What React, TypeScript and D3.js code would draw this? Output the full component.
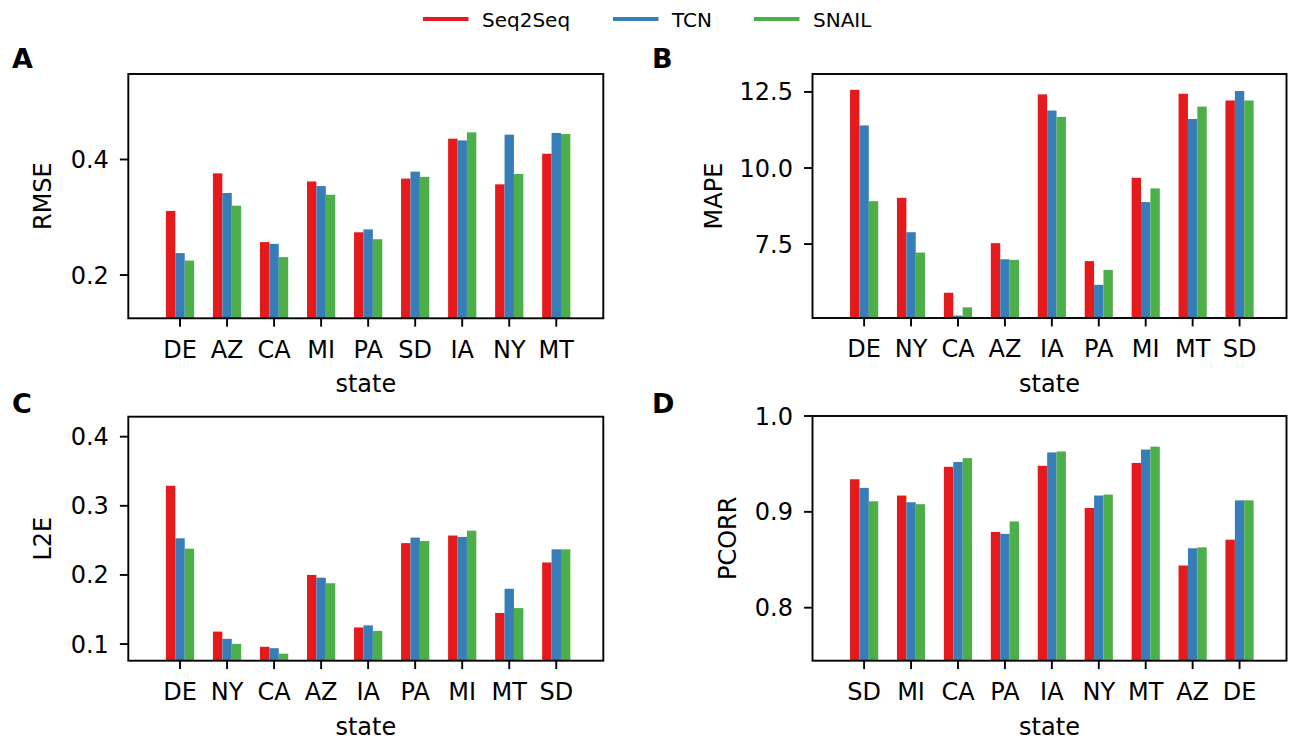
import React from "react";
import * as d3 from "d3";

const seriesNames = ["Seq2Seq", "TCN", "SNAIL"];
const seriesColors = ["#e41a1c", "#377eb8", "#4daf4a"];

// Panel A: RMSE
const rmseStates = ["DE", "AZ", "CA", "MI", "PA", "SD", "IA", "NY", "MT"];
const rmseSeq2Seq = [0.311, 0.376, 0.257, 0.362, 0.274, 0.367, 0.436, 0.357, 0.410];
const rmseTCN = [0.238, 0.342, 0.254, 0.354, 0.279, 0.379, 0.433, 0.443, 0.446];
const rmseSNAIL = [0.225, 0.320, 0.231, 0.339, 0.262, 0.370, 0.447, 0.375, 0.444];
const rmseTicks = [0.2, 0.4];

// Panel B: MAPE
const mapeStates = ["DE", "NY", "CA", "AZ", "IA", "PA", "MI", "MT", "SD"];
const mapeSeq2Seq = [12.57, 9.02, 5.90, 7.53, 12.42, 6.94, 9.68, 12.44, 12.22];
const mapeTCN = [11.40, 7.89, 5.15, 7.00, 11.89, 6.16, 8.88, 11.61, 12.53];
const mapeSNAIL = [8.91, 7.22, 5.42, 6.98, 11.68, 6.65, 9.33, 12.02, 12.22];
const mapeTicks = [7.5, 10.0, 12.5];

// Panel C: L2E
const l2eStates = ["DE", "NY", "CA", "AZ", "IA", "PA", "MI", "MT", "SD"];
const l2eSeq2Seq = [0.329, 0.118, 0.096, 0.200, 0.124, 0.246, 0.257, 0.145, 0.218];
const l2eTCN = [0.253, 0.1076, 0.094, 0.196, 0.127, 0.254, 0.255, 0.180, 0.237];
const l2eSNAIL = [0.238, 0.1003, 0.086, 0.188, 0.119, 0.249, 0.264, 0.152, 0.237];
const l2eTicks = [0.1, 0.2, 0.3, 0.4];

// Panel D: PCORR
const pcorrStates = ["SD", "MI", "CA", "PA", "IA", "NY", "MT", "AZ", "DE"];
const pcorrSeq2Seq = [0.934, 0.917, 0.947, 0.879, 0.948, 0.904, 0.951, 0.844, 0.871];
const pcorrTCN = [0.925, 0.910, 0.952, 0.877, 0.962, 0.917, 0.965, 0.862, 0.912];
const pcorrSNAIL = [0.911, 0.908, 0.956, 0.890, 0.963, 0.918, 0.968, 0.863, 0.912];
const pcorrTicks = [0.8, 0.9, 1.0];

const FONT = "DejaVu Sans";
const LW = 1.9;

type PanelProps = {
  letter: string;
  ylabel: string;
  states: string[];
  series: number[][];
  ticks: number[];
  tickFmt: (v: number) => string;
  yDomain: [number, number];
  left: number;
  right: number;
  top: number;
  bottom: number;
  ylabelX: number;
  letterX: number;
  letterY: number;
};

function Panel(p: PanelProps) {
  const x = d3.scaleLinear().domain([-1.1, 9.0]).range([p.left, p.right]);
  const y = d3.scaleLinear().domain(p.yDomain).range([p.bottom, p.top]);
  const offsets = [-0.2, 0, 0.2];
  const bw = 0.2;
  const cx = (p.left + p.right) / 2;
  const cy = (p.top + p.bottom) / 2;
  return (
    <g>
      <text x={p.letterX} y={p.letterY} fontFamily={FONT} fontWeight="bold" fontSize={27}>
        {p.letter}
      </text>
      <defs>
        <clipPath id={"clip" + p.letter}>
          <rect x={p.left} y={p.top} width={p.right - p.left} height={p.bottom - p.top} />
        </clipPath>
      </defs>
      <g clipPath={`url(#clip${p.letter})`}>
        {p.series.map((vals, s) =>
          vals.map((v, i) => {
            const x0 = x(i + offsets[s] - bw / 2);
            const x1 = x(i + offsets[s] + bw / 2);
            const yv = y(v);
            return (
              <rect
                key={s + "-" + i}
                x={x0}
                y={yv}
                width={x1 - x0}
                height={p.bottom - yv + 2}
                fill={seriesColors[s]}
              />
            );
          })
        )}
      </g>
      <rect
        x={p.left}
        y={p.top}
        width={p.right - p.left}
        height={p.bottom - p.top}
        fill="none"
        stroke="#000"
        strokeWidth={LW}
      />
      {p.ticks.map((t) => (
        <g key={"yt" + t}>
          <line x1={p.left - 8.4} x2={p.left} y1={y(t)} y2={y(t)} stroke="#000" strokeWidth={LW} />
          <text
            x={p.left - 19.5}
            y={y(t) + 8.5}
            textAnchor="end"
            fontFamily={FONT}
            fontSize={24}
          >
            {p.tickFmt(t)}
          </text>
        </g>
      ))}
      {p.states.map((s, i) => (
        <g key={"xt" + s + i}>
          <line x1={x(i)} x2={x(i)} y1={p.bottom} y2={p.bottom + 8.4} stroke="#000" strokeWidth={LW} />
          <text
            x={x(i)}
            y={p.bottom + 39.3}
            textAnchor="middle"
            fontFamily={FONT}
            fontSize={24}
          >
            {s}
          </text>
        </g>
      ))}
      <text
        x={cx}
        y={p.bottom + 74}
        textAnchor="middle"
        fontFamily={FONT}
        fontSize={24}
      >
        state
      </text>
      <text
        transform={`translate(${p.ylabelX},${cy}) rotate(-90)`}
        textAnchor="middle"
        fontFamily={FONT}
        fontSize={24}
      >
        {p.ylabel}
      </text>
    </g>
  );
}

function Legend() {
  const lineStarts = [423, 613, 754];
  return (
    <g>
      {seriesNames.map((n, i) => (
        <g key={n}>
          <line
            x1={lineStarts[i]}
            x2={lineStarts[i] + 45.5}
            y1={19}
            y2={19}
            stroke={seriesColors[i]}
            strokeWidth={4.2}
          />
          <text x={lineStarts[i] + 59} y={26.5} fontFamily={FONT} fontSize={20}>
            {n}
          </text>
        </g>
      ))}
    </g>
  );
}

export default function App() {
  const f1 = d3.format(".1f");
  return (
    <svg
      width={1292}
      height={740}
      style={{ position: "absolute", left: 0, top: 0, background: "#fff" }}
    >
      <rect width={1292} height={740} fill="#fff" />
      <Legend />
      <Panel
        letter="A"
        ylabel="RMSE"
        states={rmseStates}
        series={[rmseSeq2Seq, rmseTCN, rmseSNAIL]}
        ticks={rmseTicks}
        tickFmt={f1}
        yDomain={[0.1251, 0.548]}
        left={128.3}
        right={603.3}
        top={74}
        bottom={318.3}
        ylabelX={51}
        letterX={12}
        letterY={68.3}
      />
      <Panel
        letter="B"
        ylabel="MAPE"
        states={mapeStates}
        series={[mapeSeq2Seq, mapeTCN, mapeSNAIL]}
        ticks={mapeTicks}
        tickFmt={f1}
        yDomain={[5.07, 13.09]}
        left={812.5}
        right={1286.5}
        top={74}
        bottom={318}
        ylabelX={722}
        letterX={652}
        letterY={68.3}
      />
      <Panel
        letter="C"
        ylabel="L2E"
        states={l2eStates}
        series={[l2eSeq2Seq, l2eTCN, l2eSNAIL]}
        ticks={l2eTicks}
        tickFmt={f1}
        yDomain={[0.0759, 0.4289]}
        left={128.3}
        right={603.3}
        top={416.7}
        bottom={660.7}
        ylabelX={51}
        letterX={12}
        letterY={413}
      />
      <Panel
        letter="D"
        ylabel="PCORR"
        states={pcorrStates}
        series={[pcorrSeq2Seq, pcorrTCN, pcorrSNAIL]}
        ticks={pcorrTicks}
        tickFmt={f1}
        yDomain={[0.7447, 1.0]}
        left={812.5}
        right={1286.5}
        top={416}
        bottom={660.7}
        ylabelX={736}
        letterX={652}
        letterY={413}
      />
    </svg>
  );
}
